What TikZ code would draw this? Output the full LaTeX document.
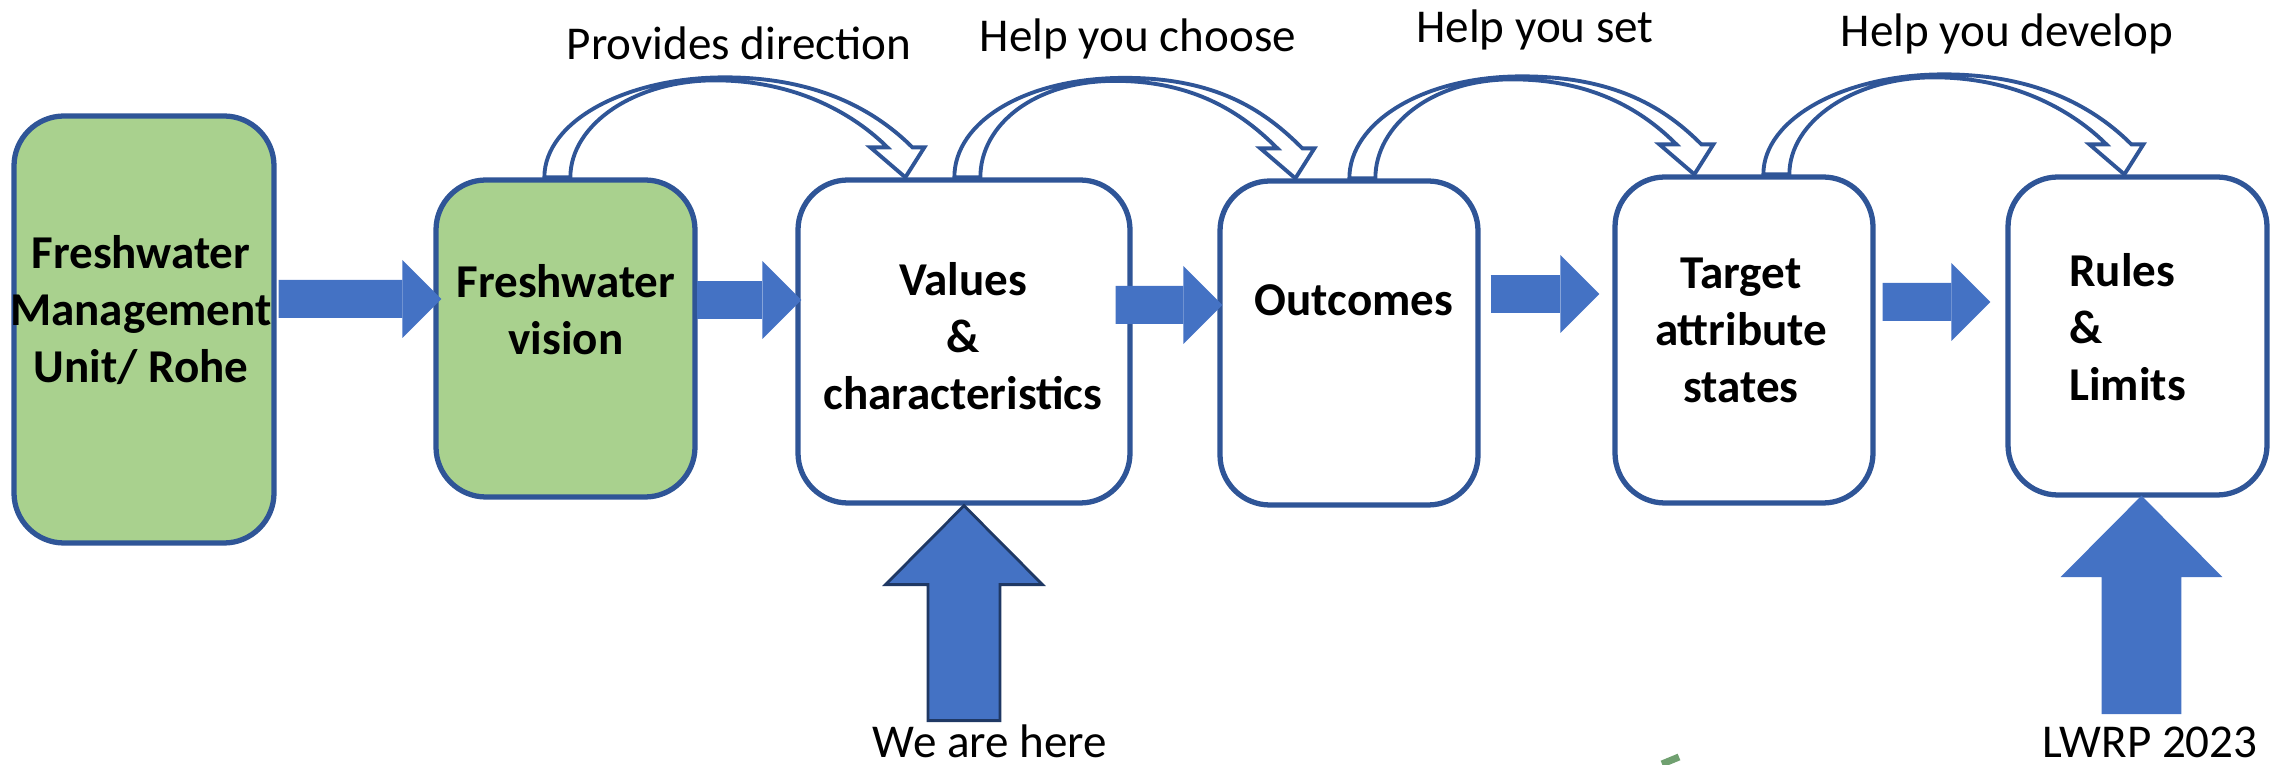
\documentclass[tikz,border=0pt]{standalone}
\usepackage{fontspec}
\setmainfont{Carlito}
\usetikzlibrary{arrows.meta,calc}

\definecolor{boxblue}{HTML}{2F5597}
\definecolor{leafgreen}{HTML}{A9D18E}
\definecolor{arrowblue}{HTML}{4472C4}
\definecolor{navyline}{HTML}{1F3864}
\definecolor{tickgreen}{HTML}{70A070}

\begin{document}
\begin{tikzpicture}[line join=round,
  box/.style={draw=boxblue, line width=1.5pt, rounded corners=5mm, inner sep=0pt},
  greenbox/.style={box, fill=leafgreen},
  boxtext/.style={font=\fontsize{13.4}{16.2}\selectfont\bfseries, align=center},
  toptext/.style={font=\fontsize{13.4}{16.2}\selectfont, anchor=base},
  blockarrow/.style={draw=arrowblue, line width=3.8mm, -{Triangle[length=3.9mm,width=7.8mm,line width=0pt]}},
  uparrow/.style={fill=arrowblue, draw=arrowblue, line width=0.8pt, line join=miter},
  bentarrow/.style={draw=boxblue, fill=white, line width=1.1pt, line join=miter}]
\useasboundingbox (0,0) rectangle (22.8,7.65);

% boxes
\node[greenbox, minimum width=2.6cm, minimum height=4.27cm] (fmu) at (1.44,4.355) {};
\node[greenbox, minimum width=2.59cm, minimum height=3.17cm] (vision) at (5.655,4.265) {};
\node[box, minimum width=3.32cm, minimum height=3.23cm] (values) at (9.64,4.235) {};
\node[box, minimum width=2.58cm, minimum height=3.24cm] (outcomes) at (13.49,4.22) {};
\node[box, minimum width=2.58cm, minimum height=3.26cm] (target) at (17.44,4.25) {};
\node[box, minimum width=2.59cm, minimum height=3.18cm] (rules) at (21.375,4.29) {};

% block arrows between the boxes
\draw[blockarrow] ([xshift=0.2mm,yshift=3.05mm]fmu.east) -- ([xshift=0.8mm,yshift=3.95mm]vision.west);
\draw[blockarrow] ([xshift=-0.1mm,yshift=3.85mm]vision.east) -- ([xshift=0.6mm,yshift=4.15mm]values.west);
\draw[blockarrow] ([xshift=-1.7mm,yshift=3.65mm]values.east) -- ([xshift=0.5mm,yshift=3.8mm]outcomes.west);
\draw[blockarrow] ([xshift=1mm,yshift=4.9mm]outcomes.east) -- ([xshift=-1.3mm,yshift=4.6mm]target.west);
\draw[blockarrow] ([xshift=0.7mm,yshift=3.8mm]target.east) -- ([xshift=-1.5mm,yshift=3.4mm]rules.west);

% curved hollow arrows over the top
\foreach \from/\to/\dfrom/\dto in {vision/values/1.11/1.10, values/outcomes/1.59/0.78,
    outcomes/target/1.32/0.82, target/rules/1.51/1.19}{
  \coordinate (s) at ($(\from.north west)+(\dfrom,0)$);
  \coordinate (t) at ($(\to.north west)+(\dto,0)$);
  \coordinate (p) at ($(s)!0.5!(t)+(0,1)$);
  \draw[bentarrow] (s) .. controls +(0,0.56) and +(-0.99,0) .. (p)
    .. controls +(0.95,0) and +(-0.35,0.35) .. ($(t)+(0.07,0.3)$)
    -- ($(t)+(0.19,0.3)$) -- (t) -- ($(t)+(-0.35,0.3)$) -- ($(t)+(-0.18,0.3)$)
    .. controls +(-0.3,0.3) and +(0.85,0) .. ($(p)+(-0.1,-0.03)$)
    .. controls +(-0.8,0) and +(0,0.53) .. ($(s)+(0.26,0)$) -- cycle;
}

% up arrows
\draw[uparrow, draw=navyline] (values.south) -- ++(0.785,-0.79) -- ++(-0.425,0) -- ++(0,-1.36)
  -- ++(-0.72,0) -- ++(0,1.36) -- ++(-0.425,0) -- cycle;
\draw[uparrow] ([xshift=0.4mm]rules.south) -- ++(0.775,-0.78) -- ++(-0.39,0) -- ++(0,-1.37)
  -- ++(-0.77,0) -- ++(0,1.37) -- ++(-0.39,0) -- cycle;

% box texts
\node[boxtext] (fmu-text) at (1.41,4.55) {Freshwater\\Management\\Unit/ Rohe};
\node[boxtext] (vision-text) at (5.66,4.55) {Freshwater\\vision};
\node[boxtext] (values-text) at (9.63,4.29) {Values\\\&\\characteristics};
\node[boxtext] (outcomes-text) at (13.54,4.65) {Outcomes};
\node[boxtext] (target-text) at (17.41,4.35) {Target\\attribute\\states};
\node[boxtext, align=left, anchor=west] (rules-text) at (20.57,4.38) {Rules\\\&\\Limits};

% labels
\node[toptext] (direction) at (7.39,7.05) {Provides direction};
\node[toptext] (choose) at (11.38,7.13) {Help you choose};
\node[toptext] (set) at (15.35,7.22) {Help you set};
\node[toptext] (develop) at (20.07,7.18) {Help you develop};
\node[toptext] (here) at (9.90,0.07) {We are here};
\node[toptext] (lwrp) at (21.50,0.07) {LWRP 2023};

\draw[tickgreen, line width=2pt] (16.62,0.01) -- (16.79,0.08);
\end{tikzpicture}
\end{document}
